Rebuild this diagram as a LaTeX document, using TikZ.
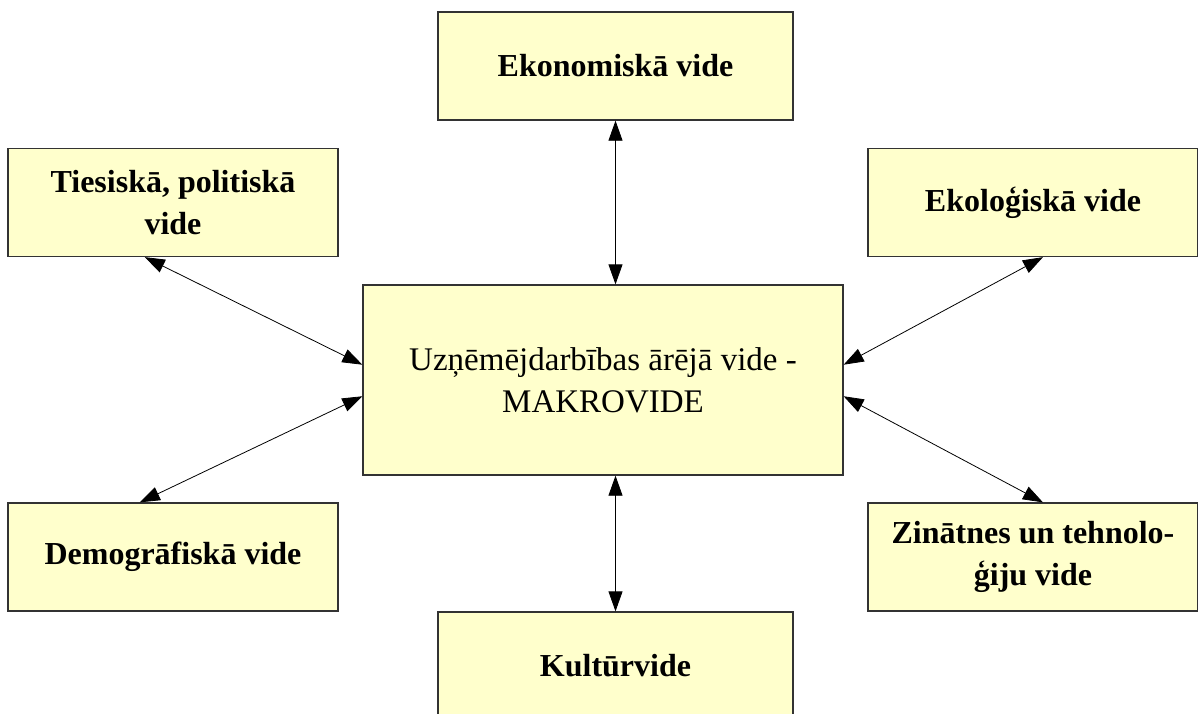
\documentclass[tikz,border=0pt]{standalone}
\usepackage{fontspec}
\setmainfont{Liberation Serif}
\usetikzlibrary{arrows.meta,calc}
\definecolor{boxfill}{HTML}{FFFFCC}
\definecolor{boxline}{HTML}{333333}
\tikzset{
  vidbox/.style={draw=boxline, line width=1.3pt, fill=boxfill, rectangle, align=center,
    minimum width=330pt, minimum height=108pt, inner sep=0pt,
    font=\bfseries\fontsize{32}{42}\selectfont},
  link/.style={line width=0.8pt, {Triangle[length=20pt,width=14pt]}-{Triangle[length=20pt,width=14pt]}}
}
\begin{document}
\begin{tikzpicture}[x=1pt,y=-1pt]
\useasboundingbox (0,0) rectangle (1198,713);
\node (makro)[vidbox, minimum width=480pt, minimum height=190pt, font=\fontsize{33}{42}\selectfont] at (603,380) {Uzņēmējdarbības ārējā vide -\\MAKROVIDE};
\node (eko)  [vidbox, minimum width=355pt] at (615.5,66) {Ekonomiskā vide};
\node (kult) [vidbox, minimum width=355pt] at (615.5,666) {Kultūrvide};
\node (ties) [vidbox] at (173,202.5) {Tiesiskā, politiskā\\vide};
\node (ekol) [vidbox] at (1033,202.5) {Ekoloģiskā vide};
\node (demo) [vidbox] at (173,557) {Demogrāfiskā vide};
\node (zin)  [vidbox] at (1033,557) {Zinātnes un tehnolo-\\ģiju vide};
% arrow ends on the boxes
\coordinate (mlt) at ($(makro.north west)!0.42!(makro.south west)$);
\coordinate (mlb) at ($(makro.north west)!0.585!(makro.south west)$);
\coordinate (mrt) at ($(makro.north east)!0.42!(makro.south east)$);
\coordinate (mrb) at ($(makro.north east)!0.585!(makro.south east)$);
\coordinate (tiesd) at ($(ties.south west)!0.415!(ties.south east)$);
\coordinate (demou) at ($(demo.north west)!0.4!(demo.north east)$);
\coordinate (ekold) at ($(ekol.south west)!0.53!(ekol.south east)$);
\coordinate (zinu) at ($(zin.north west)!0.53!(zin.north east)$);
\draw [link](eko.south)--(eko.south |- makro.north);
\draw [link](kult.north)--(kult.north |- makro.south);
\draw [link](tiesd)--(mlt);
\draw [link](demou)--(mlb);
\draw [link](ekold)--(mrt);
\draw [link](zinu)--(mrb);
\end{tikzpicture}
\end{document}
